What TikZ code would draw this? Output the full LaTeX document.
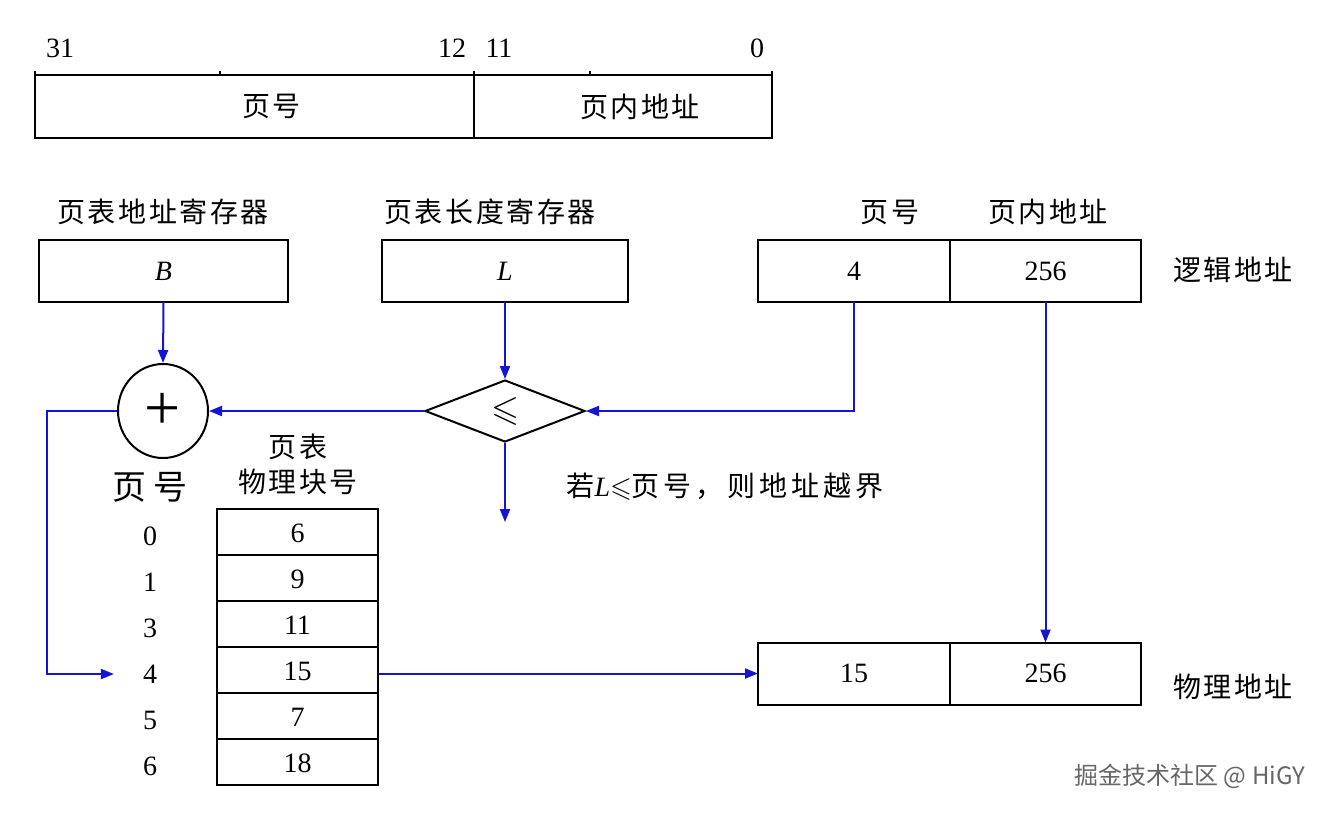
\documentclass[tikz,border=0pt]{standalone}
\usepackage{fontspec}
\usepackage{amssymb}
\setmainfont{Liberation Serif}
\newfontfamily\cjk{Noto Sans CJK SC}[LetterSpace=9]
\usetikzlibrary{shapes.geometric,shapes.multipart,positioning,arrows.meta}
\definecolor{linkblue}{RGB}{20,20,215}
\newcommand\rowstrut{\rule[-3.5pt]{0pt}{17pt}}

\begin{document}
\begin{tikzpicture}[
  x=0.5pt, y=-0.5pt,
  font=\fontsize{14}{17}\selectfont,
  box/.style={draw, line width=1pt, outer sep=0pt, inner sep=0pt, minimum height=31pt},
  cjklbl/.style={font=\fontsize{14}{17}\selectfont\cjk},
  num/.style={font=\fontsize{14}{17}\selectfont},
  link/.style={draw=linkblue, line width=1pt, -{Triangle[length=6.5pt,width=5pt]}}
]
  \useasboundingbox (0,0) rectangle (1336,814);

  \node[box, minimum width=219.5pt, minimum height=31.5pt,
    label={[cjklbl, xshift=8.5pt]center:页号}] (fpage) at (254.5,106.5) {};
  \node[box, minimum width=149pt, minimum height=31.5pt, right=0pt of fpage,
    label={[cjklbl, xshift=8.5pt]center:页内地址}] (foff) {};
  \draw[line width=1pt] (fpage.north west) -- ++(0,-4);
  \draw[line width=1pt] (220,75) -- (220,71);
  \draw[line width=1pt] (fpage.north east) -- ++(0,-4);
  \draw[line width=1pt] (590,75) -- (590,71);
  \draw[line width=1pt] (foff.north east) -- ++(0,-4);
  \node[num] (b31) at (60,48) {31};
  \node[num] (b12) at (452,48) {12};
  \node[num] (b11) at (499,48) {11};
  \node[num] (b0) at (757,48) {0};

  \node[cjklbl] (tbase) at (163,212) {页表地址寄存器};
  \node[box, minimum width=124.5pt] (regB) at (163.5,271) {\textit{B}};
  \node[cjklbl] (tlen) at (490,212) {页表长度寄存器};
  \node[box, minimum width=123pt] (regL) at (505,271) {\textit{L}};

  \node[cjklbl] (tlpage) at (890,212) {页号};
  \node[cjklbl] (tloff) at (1048,212) {页内地址};
  \node[box, minimum width=96pt, num] (lpage) at (854,271) {4};
  \node[box, minimum width=95.5pt, num, right=0pt of lpage] (loff) {256};
  \node[cjklbl] (tlogic) at (1233,270) {逻辑地址};

  \node[
    ellipse,
    draw,
    line width=1pt,
    minimum width=45pt,
    minimum height=47pt,
    inner sep=0pt,
    font=\fontsize{32}{32}\selectfont
  ] (adder) at (163,411) {+};
  \node[
    diamond,
    draw,
    line width=1pt,
    aspect=2.6,
    minimum width=80pt,
    minimum height=31pt,
    inner sep=0pt,
    font=\fontsize{18}{18}\selectfont
  ] (cmp) at (505,411) {$\leqslant$};
  \coordinate (over) at (505,522);
  \node[font=\fontsize{14}{17}\selectfont\cjk\addfontfeature{LetterSpace=14}] (bound) at (725,487)
    {若{\rmfamily\itshape L}$\leqslant$页号，则地址越界};

  \node[font=\fontsize{17}{20}\selectfont\cjk\addfontfeature{LetterSpace=18}] (tpn) at (150,487) {页号};
  \node[cjklbl] (ttbl) at (298,447) {页表};
  \node[cjklbl] (tblk) at (298,482) {物理块号};
  \node[
    rectangle split,
    rectangle split parts=6,
    draw,
    line width=1pt,
    text width=80.5pt,
    align=center,
    inner xsep=0pt,
    inner ysep=2.5pt,
    anchor=north
  ] (tbl) at (297.5,508) {\rowstrut 6\nodepart{two}\rowstrut 9\nodepart{three}\rowstrut 11%
    \nodepart{four}\rowstrut 15\nodepart{five}\rowstrut 7\nodepart{six}\rowstrut 18};
  \foreach \pn [count=\i from 0] in {0,1,3,4,5,6}
    \node[num] (pn\pn) at (150,536+46*\i) {\pn};

  \node[box, minimum width=96pt, num] (ppage) at (854,673.5) {15};
  \node[box, minimum width=95.5pt, num, right=0pt of ppage] (poff) {256};
  \node[cjklbl] (tphys) at (1233,687) {物理地址};

  \draw[link] (regB.south) -- (adder.north);
  \draw[link] (regL.south) -- (cmp.north);
  \draw[link] (lpage.south) |- (cmp.east);
  \draw[link] (cmp.west) -- (adder.east);
  \draw[link] (adder.west) -- ++(-70,0) |- ([xshift=-11pt]pn4.west);
  \draw[link] (cmp.south) -- (over);
  \draw[link] (loff.south) -- (poff.north);
  \draw[link] (tbl.east |- ppage.west) -- (ppage.west);

  \node[font=\fontsize{12}{14}\selectfont\cjk\addfontfeature{LetterSpace=0}, text=black!60] (credit) at (1190,776) {掘金技术社区 @ HiGY};
\end{tikzpicture}
\end{document}
